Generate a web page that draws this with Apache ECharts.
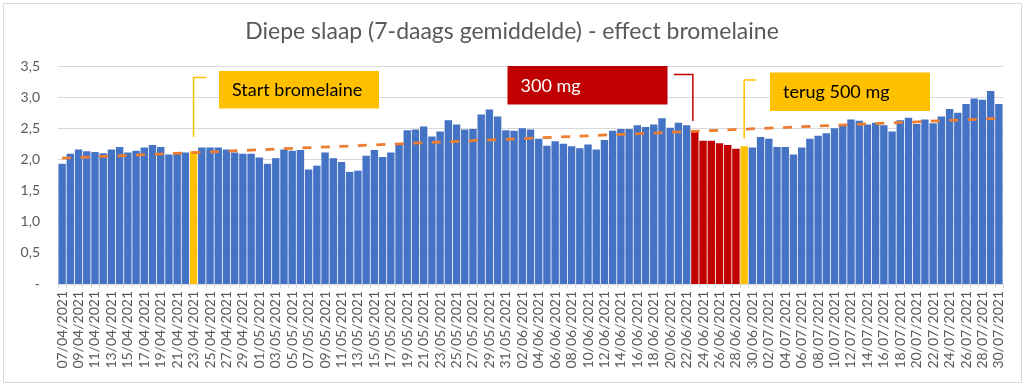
<!DOCTYPE html>
<html>
<head>
<meta charset="utf-8">
<script src="https://cdn.jsdelivr.net/npm/echarts@6/dist/echarts.min.js"></script>
<style>
  html, body { margin: 0; padding: 0; background: #fff; }
  #chart { width: 1024px; height: 384px; }
</style>
</head>
<body>
<div id="chart"></div>
<script>
const categories = [
  '07/04/2021','08/04/2021','09/04/2021','10/04/2021','11/04/2021','12/04/2021','13/04/2021','14/04/2021',
  '15/04/2021','16/04/2021','17/04/2021','18/04/2021','19/04/2021','20/04/2021','21/04/2021','22/04/2021',
  '23/04/2021','24/04/2021','25/04/2021','26/04/2021','27/04/2021','28/04/2021','29/04/2021','30/04/2021',
  '01/05/2021','02/05/2021','03/05/2021','04/05/2021','05/05/2021','06/05/2021','07/05/2021','08/05/2021',
  '09/05/2021','10/05/2021','11/05/2021','12/05/2021','13/05/2021','14/05/2021','15/05/2021','16/05/2021',
  '17/05/2021','18/05/2021','19/05/2021','20/05/2021','21/05/2021','22/05/2021','23/05/2021','24/05/2021',
  '25/05/2021','26/05/2021','27/05/2021','28/05/2021','29/05/2021','30/05/2021','31/05/2021',
  '01/06/2021','02/06/2021','03/06/2021','04/06/2021','05/06/2021','06/06/2021','07/06/2021','08/06/2021',
  '09/06/2021','10/06/2021','11/06/2021','12/06/2021','13/06/2021','14/06/2021','15/06/2021','16/06/2021',
  '17/06/2021','18/06/2021','19/06/2021','20/06/2021','21/06/2021','22/06/2021','23/06/2021','24/06/2021',
  '25/06/2021','26/06/2021','27/06/2021','28/06/2021','29/06/2021','30/06/2021',
  '01/07/2021','02/07/2021','03/07/2021','04/07/2021','05/07/2021','06/07/2021','07/07/2021','08/07/2021',
  '09/07/2021','10/07/2021','11/07/2021','12/07/2021','13/07/2021','14/07/2021','15/07/2021','16/07/2021',
  '17/07/2021','18/07/2021','19/07/2021','20/07/2021','21/07/2021','22/07/2021','23/07/2021','24/07/2021',
  '25/07/2021','26/07/2021','27/07/2021','28/07/2021','29/07/2021','30/07/2021'
];

const deepSleep = [
  1.93, 2.09, 2.16, 2.13, 2.12, 2.10, 2.16, 2.20, 2.11, 2.14, 2.19, 2.23, 2.20, 2.08, 2.12, 2.11,
  2.13, 2.19, 2.19, 2.19, 2.16, 2.11, 2.09, 2.09,
  2.03, 1.93, 2.02, 2.16, 2.14, 2.15, 1.84, 1.90, 2.11, 2.02, 1.96, 1.80, 1.82, 2.06, 2.15, 2.04,
  2.11, 2.23, 2.47, 2.48, 2.53, 2.37, 2.45, 2.63, 2.56, 2.48, 2.49, 2.72, 2.80, 2.69, 2.47,
  2.46, 2.50, 2.48, 2.33, 2.22, 2.29, 2.25, 2.21, 2.18, 2.24, 2.16, 2.31, 2.46, 2.49, 2.49, 2.55,
  2.52, 2.56, 2.66, 2.51, 2.59, 2.55, 2.45, 2.30, 2.30, 2.26, 2.23, 2.17, 2.21, 2.19,
  2.36, 2.33, 2.20, 2.20, 2.08, 2.19, 2.33, 2.38, 2.42, 2.50, 2.54, 2.64, 2.62, 2.56, 2.59, 2.55,
  2.45, 2.63, 2.67, 2.57, 2.64, 2.58, 2.69, 2.81, 2.75, 2.89, 2.98, 2.96, 3.10, 2.89
];

// trend line end values
const trendEnds = [2.02, 2.66];

const startDates = ['23/04/2021'];
const dose300Dates = ['23/06/2021','24/06/2021','25/06/2021','26/06/2021','27/06/2021','28/06/2021'];
const back500Dates = ['29/06/2021'];

const annotationTexts = ['Start bromelaine', '300 mg', 'terug 500 mg'];
const titleText = 'Diepe slaap (7-daags gemiddelde) - effect bromelaine';

const BLUE = '#4472C4', RED = '#C00000', YELLOW = '#FFC000', ORANGE = '#ED7D31', GREY = '#595959';
const FONT = 'Lato';

function barColor(cat) {
  if (dose300Dates.includes(cat)) return RED;
  if (startDates.includes(cat) || back500Dates.includes(cat)) return YELLOW;
  return BLUE;
}

const chart = echarts.init(document.getElementById('chart'), null, { renderer: 'canvas' });

const option = {
  animation: false,
  backgroundColor: '#fff',
  title: {
    text: titleText,
    left: 'center',
    top: 15,
    textStyle: { fontFamily: FONT, fontSize: 23, fontWeight: 'normal', color: GREY }
  },
  grid: { left: 58, right: 21, top: 66, bottom: 100, containLabel: false },
  xAxis: {
    type: 'category',
    data: categories,
    boundaryGap: true,
    axisLine: { show: true, lineStyle: { color: '#D9D9D9', width: 1 } },
    axisTick: { show: true, interval: 0, length: 4, lineStyle: { color: '#D9D9D9' } },
    axisLabel: {
      interval: 1,
      rotate: 90,
      margin: 7,
      fontFamily: FONT,
      fontSize: 14,
      color: GREY
    },
    splitLine: { show: false }
  },
  yAxis: {
    type: 'value',
    min: 0,
    max: 3.5,
    interval: 0.5,
    axisLine: { show: false },
    axisTick: { show: false },
    axisLabel: {
      margin: 18,
      fontFamily: FONT,
      fontSize: 14,
      color: GREY,
      formatter: v => v === 0 ? '-' : v.toFixed(1).replace('.', ',')
    },
    splitLine: { lineStyle: { color: '#D9D9D9', width: 1 } }
  },
  series: [
    {
      type: 'bar',
      data: deepSleep.map((v, i) => ({ value: v, itemStyle: { color: barColor(categories[i]) } })),
      barCategoryGap: '10%',
      z: 2
    },
    {
      type: 'line',
      data: [[categories[0], trendEnds[0]], [categories[categories.length - 1], trendEnds[1]]],
      symbol: 'none',
      lineStyle: { color: ORANGE, width: 2.75, type: [9, 9.5] },
      z: 3,
      silent: true
    }
  ]
};

chart.setOption(option);

// Annotations: connectors anchored to the annotated bars' centres
const xStart = chart.convertToPixel({ xAxisIndex: 0 }, startDates[0]);
const x300 = chart.convertToPixel({ xAxisIndex: 0 }, dose300Dates[0]) - 2;
const x500 = chart.convertToPixel({ xAxisIndex: 0 }, back500Dates[0]);

const textStyleBase = { fontFamily: FONT, fontSize: 18 };

chart.setOption({
  graphic: [
    { type: 'rect', left: 1, top: 1, shape: { x: 0, y: 0, width: 1018, height: 379 },
      style: { fill: 'none', stroke: '#D9D9D9', lineWidth: 1 }, silent: true, z: 0 },
    // Start bromelaine
    { type: 'polyline', shape: { points: [[xStart + 13, 77.5], [xStart, 77.5], [xStart, 137]] },
      style: { stroke: YELLOW, lineWidth: 1.5, fill: 'none' }, z: 10 },
    { type: 'rect', shape: { x: 219, y: 71, width: 160, height: 37.5 }, style: { fill: YELLOW }, z: 10 },
    { type: 'text', x: 232, y: 90, style: Object.assign({ text: annotationTexts[0], fill: '#000', textVerticalAlign: 'middle', verticalAlign: 'middle' }, textStyleBase), z: 11 },
    // 300 mg
    { type: 'polyline', shape: { points: [[x300 - 19, 74.5], [x300, 74.5], [x300, 121]] },
      style: { stroke: RED, lineWidth: 1.5, fill: 'none' }, z: 10 },
    { type: 'rect', shape: { x: 507.5, y: 66, width: 160, height: 38.5 }, style: { fill: RED }, z: 10 },
    { type: 'text', x: 520.5, y: 86, style: Object.assign({ text: annotationTexts[1], fill: '#fff', textVerticalAlign: 'middle', verticalAlign: 'middle' }, textStyleBase), z: 11 },
    // terug 500 mg
    { type: 'polyline', shape: { points: [[x500 + 12, 80], [x500, 80], [x500, 138.5]] },
      style: { stroke: YELLOW, lineWidth: 1.5, fill: 'none' }, z: 10 },
    { type: 'rect', shape: { x: 770, y: 72.5, width: 160, height: 38.5 }, style: { fill: YELLOW }, z: 10 },
    { type: 'text', x: 783, y: 92, style: Object.assign({ text: annotationTexts[2], fill: '#000', textVerticalAlign: 'middle', verticalAlign: 'middle' }, textStyleBase), z: 11 }
  ]
});
</script>
</body>
</html>
